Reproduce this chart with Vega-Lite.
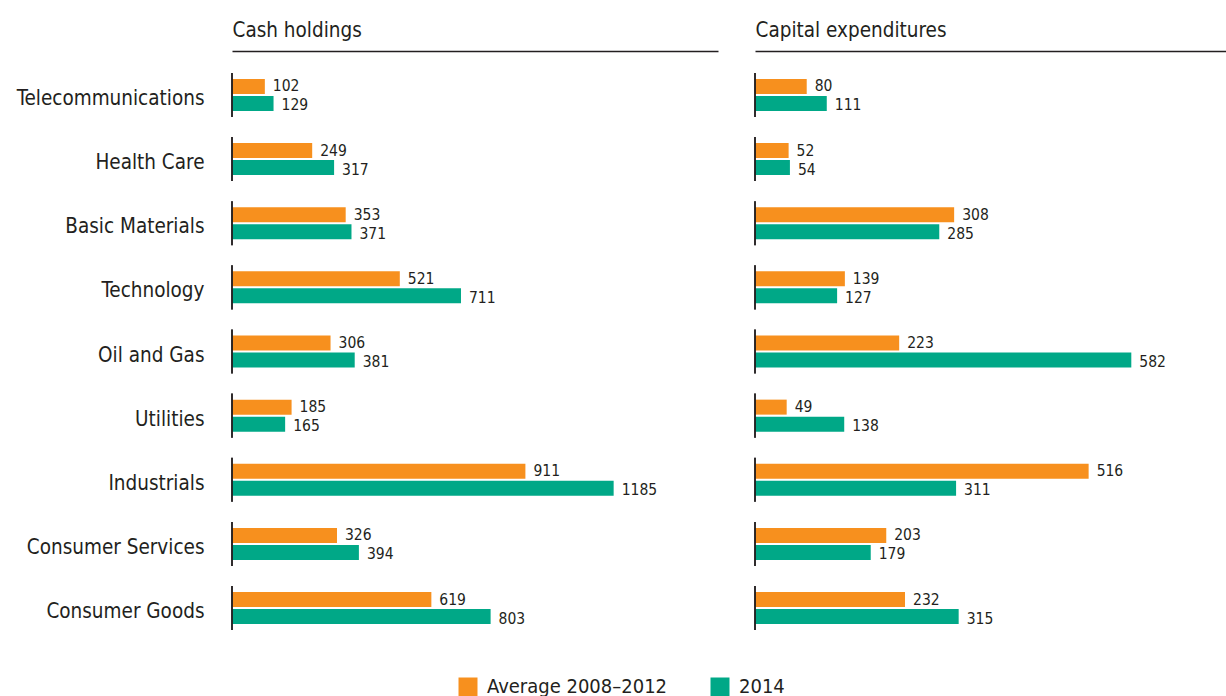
{
  "$schema": "https://vega.github.io/schema/vega-lite/v6.json",
  "padding": 0,
  "background": "white",
  "config": {
    "view": {"stroke": null},
    "font": "'DejaVu Sans Condensed', 'DejaVu Sans', sans-serif",
    "axis": {"grid": false}
  },
  "data": {
    "values": [
      {"sector": "Telecommunications", "period": "Average 2008–2012", "cash": 102, "capex": 80},
      {"sector": "Telecommunications", "period": "2014", "cash": 129, "capex": 111},
      {"sector": "Health Care", "period": "Average 2008–2012", "cash": 249, "capex": 52},
      {"sector": "Health Care", "period": "2014", "cash": 317, "capex": 54},
      {"sector": "Basic Materials", "period": "Average 2008–2012", "cash": 353, "capex": 308},
      {"sector": "Basic Materials", "period": "2014", "cash": 371, "capex": 285},
      {"sector": "Technology", "period": "Average 2008–2012", "cash": 521, "capex": 139},
      {"sector": "Technology", "period": "2014", "cash": 711, "capex": 127},
      {"sector": "Oil and Gas", "period": "Average 2008–2012", "cash": 306, "capex": 223},
      {"sector": "Oil and Gas", "period": "2014", "cash": 381, "capex": 582},
      {"sector": "Utilities", "period": "Average 2008–2012", "cash": 185, "capex": 49},
      {"sector": "Utilities", "period": "2014", "cash": 165, "capex": 138},
      {"sector": "Industrials", "period": "Average 2008–2012", "cash": 911, "capex": 516},
      {"sector": "Industrials", "period": "2014", "cash": 1185, "capex": 311},
      {"sector": "Consumer Services", "period": "Average 2008–2012", "cash": 326, "capex": 203},
      {"sector": "Consumer Services", "period": "2014", "cash": 394, "capex": 179},
      {"sector": "Consumer Goods", "period": "Average 2008–2012", "cash": 619, "capex": 232},
      {"sector": "Consumer Goods", "period": "2014", "cash": 803, "capex": 315}
    ]
  },
  "spacing": 36,
  "resolve": {"scale": {"x": "independent"}},
  "hconcat": [
    {
      "width": 486,
      "height": 601,
      "encoding": {
        "y": {
          "field": "sector", "type": "nominal",
          "sort": ["Telecommunications", "Health Care", "Basic Materials", "Technology", "Oil and Gas", "Utilities", "Industrials", "Consumer Services", "Consumer Goods"],
          "scale": {"paddingInner": 0.3138, "paddingOuter": 0.343},
          "axis": {"title": null, "domain": false, "ticks": false, "labelPadding": 28, "labelOffset": 4, "labelFontSize": 20.5, "labelColor": "#231F20", "labelLimit": 400, "minExtent": 232, "maxExtent": 232}
        },
        "x": {
          "field": "cash", "type": "quantitative",
          "scale": {"domain": [0, 1509], "nice": false},
          "axis": {"orient": "top", "labels": false, "ticks": false, "domain": true, "domainColor": "#231F20", "domainWidth": 1.5, "title": "Cash holdings", "titleAnchor": "start", "titleAlign": "left", "titleFontSize": 20.5, "titleFontWeight": "normal", "titleColor": "#231F20", "titleBaseline": "alphabetic", "titleX": 0, "titleY": -15, "minExtent": 51, "maxExtent": 51}
        },
        "yOffset": {"field": "period", "type": "nominal", "sort": ["Average 2008–2012", "2014"], "scale": {"paddingInner": 0.1176, "paddingOuter": 0.353}}
      },
      "layer": [
        {
          "mark": {"type": "bar"},
          "encoding": {
            "color": {
              "field": "period", "type": "nominal",
              "scale": {"domain": ["Average 2008–2012", "2014"], "range": ["#F7901E", "#00A887"]},
              "legend": {"orient": "none", "legendX": 226, "legendY": 626, "direction": "horizontal", "title": null, "symbolType": "square", "symbolSize": 361, "symbolStrokeWidth": 0, "labelFontSize": 20, "labelLimit": 400, "labelColor": "#231F20", "labelOffset": 9, "columnPadding": 42, "padding": 0}
            }
          }
        },
        {
          "transform": [{"filter": "datum.period === 'Average 2008–2012'"}],
          "mark": {"type": "text", "align": "left", "baseline": "middle", "dx": 8, "dy": 0, "fontSize": 15.5, "color": "#231F20"},
          "encoding": {"text": {"field": "cash", "type": "quantitative"}}
        },
        {
          "transform": [{"filter": "datum.period === '2014'"}],
          "mark": {"type": "text", "align": "left", "baseline": "middle", "dx": 8, "dy": 2, "fontSize": 15.5, "color": "#231F20"},
          "encoding": {"text": {"field": "cash", "type": "quantitative"}}
        },
        {
          "mark": {"type": "rect", "fill": "transparent", "stroke": "#231F20", "strokeWidth": 1.5},
          "encoding": {
            "x": {"datum": 0, "type": "quantitative"},
            "x2": {"datum": 0},
            "yOffset": null
          }
        }
      ]
    },
    {
      "width": 472,
      "height": 601,
      "encoding": {
        "y": {
          "field": "sector", "type": "nominal",
          "sort": ["Telecommunications", "Health Care", "Basic Materials", "Technology", "Oil and Gas", "Utilities", "Industrials", "Consumer Services", "Consumer Goods"],
          "scale": {"paddingInner": 0.3138, "paddingOuter": 0.343},
          "axis": {"title": null, "domain": false, "ticks": false, "labels": false, "minExtent": 0, "maxExtent": 0}
        },
        "x": {
          "field": "capex", "type": "quantitative",
          "scale": {"domain": [0, 730], "nice": false},
          "axis": {"orient": "top", "labels": false, "ticks": false, "domain": true, "domainColor": "#231F20", "domainWidth": 1.5, "title": "Capital expenditures", "titleAnchor": "start", "titleAlign": "left", "titleFontSize": 20.5, "titleFontWeight": "normal", "titleColor": "#231F20", "titleBaseline": "alphabetic", "titleX": 0, "titleY": -15, "minExtent": 51, "maxExtent": 51}
        },
        "yOffset": {"field": "period", "type": "nominal", "sort": ["Average 2008–2012", "2014"], "scale": {"paddingInner": 0.1176, "paddingOuter": 0.353}}
      },
      "layer": [
        {
          "mark": {"type": "bar"},
          "encoding": {
            "color": {
              "field": "period", "type": "nominal",
              "scale": {"domain": ["Average 2008–2012", "2014"], "range": ["#F7901E", "#00A887"]},
              "legend": {"orient": "none", "legendX": 226, "legendY": 626, "direction": "horizontal", "title": null, "symbolType": "square", "symbolSize": 361, "symbolStrokeWidth": 0, "labelFontSize": 20, "labelLimit": 400, "labelColor": "#231F20", "labelOffset": 9, "columnPadding": 42, "padding": 0}
            }
          }
        },
        {
          "transform": [{"filter": "datum.period === 'Average 2008–2012'"}],
          "mark": {"type": "text", "align": "left", "baseline": "middle", "dx": 8, "dy": 0, "fontSize": 15.5, "color": "#231F20"},
          "encoding": {"text": {"field": "capex", "type": "quantitative"}}
        },
        {
          "transform": [{"filter": "datum.period === '2014'"}],
          "mark": {"type": "text", "align": "left", "baseline": "middle", "dx": 8, "dy": 2, "fontSize": 15.5, "color": "#231F20"},
          "encoding": {"text": {"field": "capex", "type": "quantitative"}}
        },
        {
          "mark": {"type": "rect", "fill": "transparent", "stroke": "#231F20", "strokeWidth": 1.5},
          "encoding": {
            "x": {"datum": 0, "type": "quantitative"},
            "x2": {"datum": 0},
            "yOffset": null
          }
        }
      ]
    }
  ]
}
